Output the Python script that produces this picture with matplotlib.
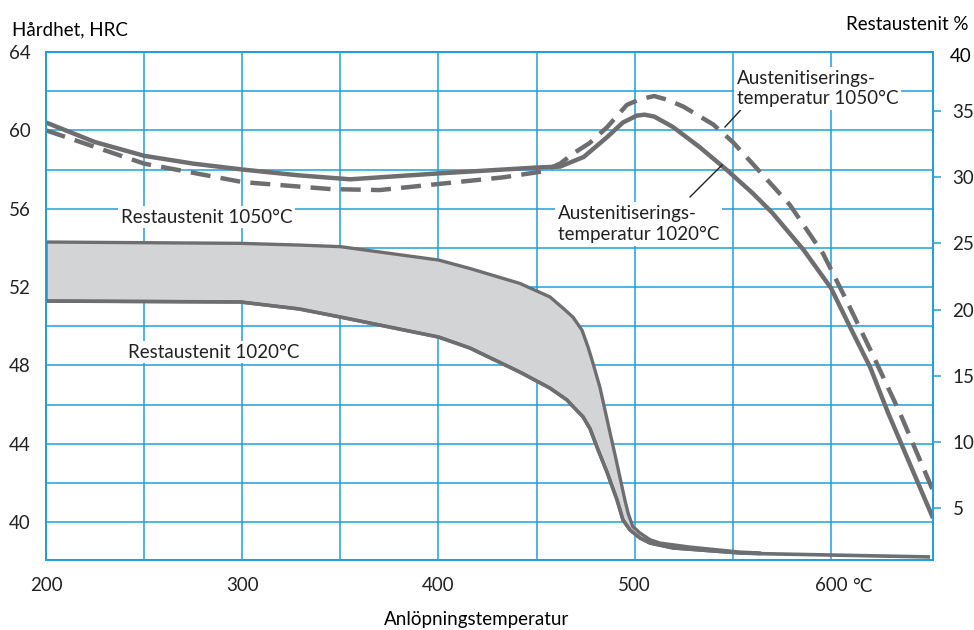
import numpy as np
import matplotlib
matplotlib.use('Agg')
import matplotlib.pyplot as plt

# Anlöpningstemperatur (°C) and hardness (HRC)
temp_1020 = [200, 225, 250, 275, 300, 329, 355, 400, 450, 462, 474, 486, 494, 501,
             505, 510, 519.5, 533, 547, 560, 570, 586, 600, 610, 620, 629, 652]
hrc_1020 = [60.4, 59.4, 58.7, 58.3, 58.0, 57.7, 57.5, 57.8, 58.1, 58.15, 58.64, 59.66,
            60.4, 60.75, 60.8, 60.7, 60.17, 59.15, 57.97, 56.8, 55.8, 53.9, 51.95,
            49.9, 47.9, 45.6, 40.2]

temp_1050 = [200, 250, 300, 345, 370, 400, 433, 453, 462, 469, 477, 486, 496, 503,
             510, 517, 525, 540, 550, 560, 570, 579, 596, 608, 621, 635, 652]
hrc_1050 = [60.0, 58.3, 57.36, 57.0, 56.95, 57.26, 57.6, 57.9, 58.3, 58.84, 59.35,
            60.17, 61.3, 61.6, 61.75, 61.55, 61.2, 60.3, 59.4, 58.3, 57.2, 56.2, 53.7,
            51.3, 48.6, 45.6, 41.6]

# Restaustenit (%) band
ra_temp_1050 = [200, 299, 329, 350, 400, 416, 441.5, 456.8, 463.4, 468.5, 473.1, 476.2,
                478.7, 482.3, 485.9, 487.4, 490, 492.5, 495, 496.6, 499, 502.7, 507.8,
                512.9, 528, 553.6, 564]
ra_1050 = [25.1, 25.0, 24.87, 24.75, 23.74, 23.1, 21.97, 20.95, 20.11, 19.43, 18.45,
           17.17, 15.96, 14.1, 11.7, 10.7, 9.0, 7.3, 5.6, 4.62, 3.6, 3.11, 2.6, 2.35,
           2.05, 1.67, 1.6]
ra_temp_1020 = [200, 299, 329, 350, 400, 416, 441.5, 456.8, 465.5, 468.5, 473.6, 477.2,
                481.3, 485.9, 491, 494, 497.6, 502.7, 507.8, 519.5, 553.6, 564, 650.5]
ra_1020 = [20.64, 20.57, 20.04, 19.43, 17.92, 17.09, 15.27, 14.06, 13.16, 12.68, 11.9,
           11.0, 9.4, 7.7, 5.6, 4.1, 3.34, 2.73, 2.35, 1.98, 1.6, 1.55, 1.3]

x_ticks = [200, 300, 400, 500, 600]
hrc_ticks = [40, 44, 48, 52, 56, 60, 64]
ra_ticks = [5, 10, 15, 20, 25, 30, 35]

BLUE = '#1f9fdb'
GREY = '#6e6e70'
FILL = '#d3d4d6'

plt.rcParams['font.family'] = ['Lato', 'DejaVu Sans']
plt.rcParams['font.size'] = 13.5

fig = plt.figure(figsize=(9.74, 6.3), dpi=100)
ax = fig.add_axes([46 / 974, 1 - 560 / 630, 887 / 974, 508 / 630])
ax2 = ax.twinx()

ax.set_xlim(200, 652)
ax.set_ylim(38.06, 64)
ax2.set_ylim(1.07, 39.46)

ax.set_xticks(x_ticks)
ax.set_xticks([250, 350, 450, 550], minor=True)
ax.set_yticks(hrc_ticks)
ax.set_yticks(np.arange(42, 63, 4), minor=True)
ax.grid(True, which='both', color=BLUE, linewidth=1.1)
ax.tick_params(which='both', length=0, labelsize=13.5, colors='#222222')
ax.tick_params(axis='x', pad=12)
ax.tick_params(axis='y', pad=11)
ax.set_xticklabels([str(t) for t in x_ticks])

ax2.set_yticks(ra_ticks)
ax2.tick_params(axis='y', length=6, width=1.1, color=BLUE, pad=8,
                labelsize=13.5, labelcolor='#222222')
for a in (ax, ax2):
    for s in a.spines.values():
        s.set_color(BLUE)
        s.set_linewidth(1.3)

# hardness curves
ax.plot(temp_1020, hrc_1020, color=GREY, lw=3.2, solid_capstyle='butt',
        solid_joinstyle='round', zorder=3)
ax.plot(temp_1050, hrc_1050, color=GREY, lw=3.2, dashes=(4.5, 2.3), zorder=3)

# restaustenit band
n_bot = sum(t <= 564 for t in ra_temp_1020)
poly_x = list(ra_temp_1050) + list(ra_temp_1020[:n_bot])[::-1]
poly_y = list(ra_1050) + list(ra_1020[:n_bot])[::-1]
ax2.fill(poly_x, poly_y, facecolor=FILL, edgecolor=GREY, linewidth=2.4,
         joinstyle='round', zorder=2)
ax2.plot(ra_temp_1020, ra_1020, color=GREY, lw=2.6, solid_capstyle='butt',
         solid_joinstyle='round', zorder=2)

# annotations
txt = dict(transform=ax.transData, fontsize=13.5, color='#222222', zorder=5)
box = dict(facecolor='white', edgecolor='none', pad=2)
ax2.text(282, 55.57, 'Restaustenit 1050°C', ha='center', va='center', bbox=box, **txt)
ax2.text(285.6, 48.68, 'Restaustenit 1020°C', ha='center', va='center', bbox=box, **txt)
ax2.text(552.1, 62.14, 'Austenitiserings-\ntemperatur 1050°C', ha='left', va='center',
         linespacing=1.25, bbox=box, **txt)
ax2.text(460.9, 55.22, 'Austenitiserings-\ntemperatur 1020°C', ha='left', va='center',
         linespacing=1.25, bbox=box, **txt)
ax2.plot([558.7, 546.0], [61.55, 60.17], transform=ax.transData, color='#222222',
         lw=1.0, zorder=4)
ax2.plot([528.2, 544.5], [56.6, 58.23], transform=ax.transData, color='#222222',
         lw=1.0, zorder=4)

fig.text(12 / 974, 1 - 30 / 630, 'Hårdhet, HRC', ha='left', va='center', fontsize=13.5)
fig.text(968 / 974, 1 - 24 / 630, 'Restaustenit %', ha='right', va='center', fontsize=13.5)
fig.text(950 / 974, 1 - 57 / 630, '40', ha='left', va='center', fontsize=13.5)
fig.text(477 / 974, 1 - 620 / 630, 'Anlöpningstemperatur', ha='center', va='center',
         fontsize=13.5)
ax.text(611, -27 / 508, '°C', transform=ax.get_xaxis_transform(), ha='left',
        va='center', fontsize=13.5, color='#222222')

fig.savefig('out.png', dpi=100)
